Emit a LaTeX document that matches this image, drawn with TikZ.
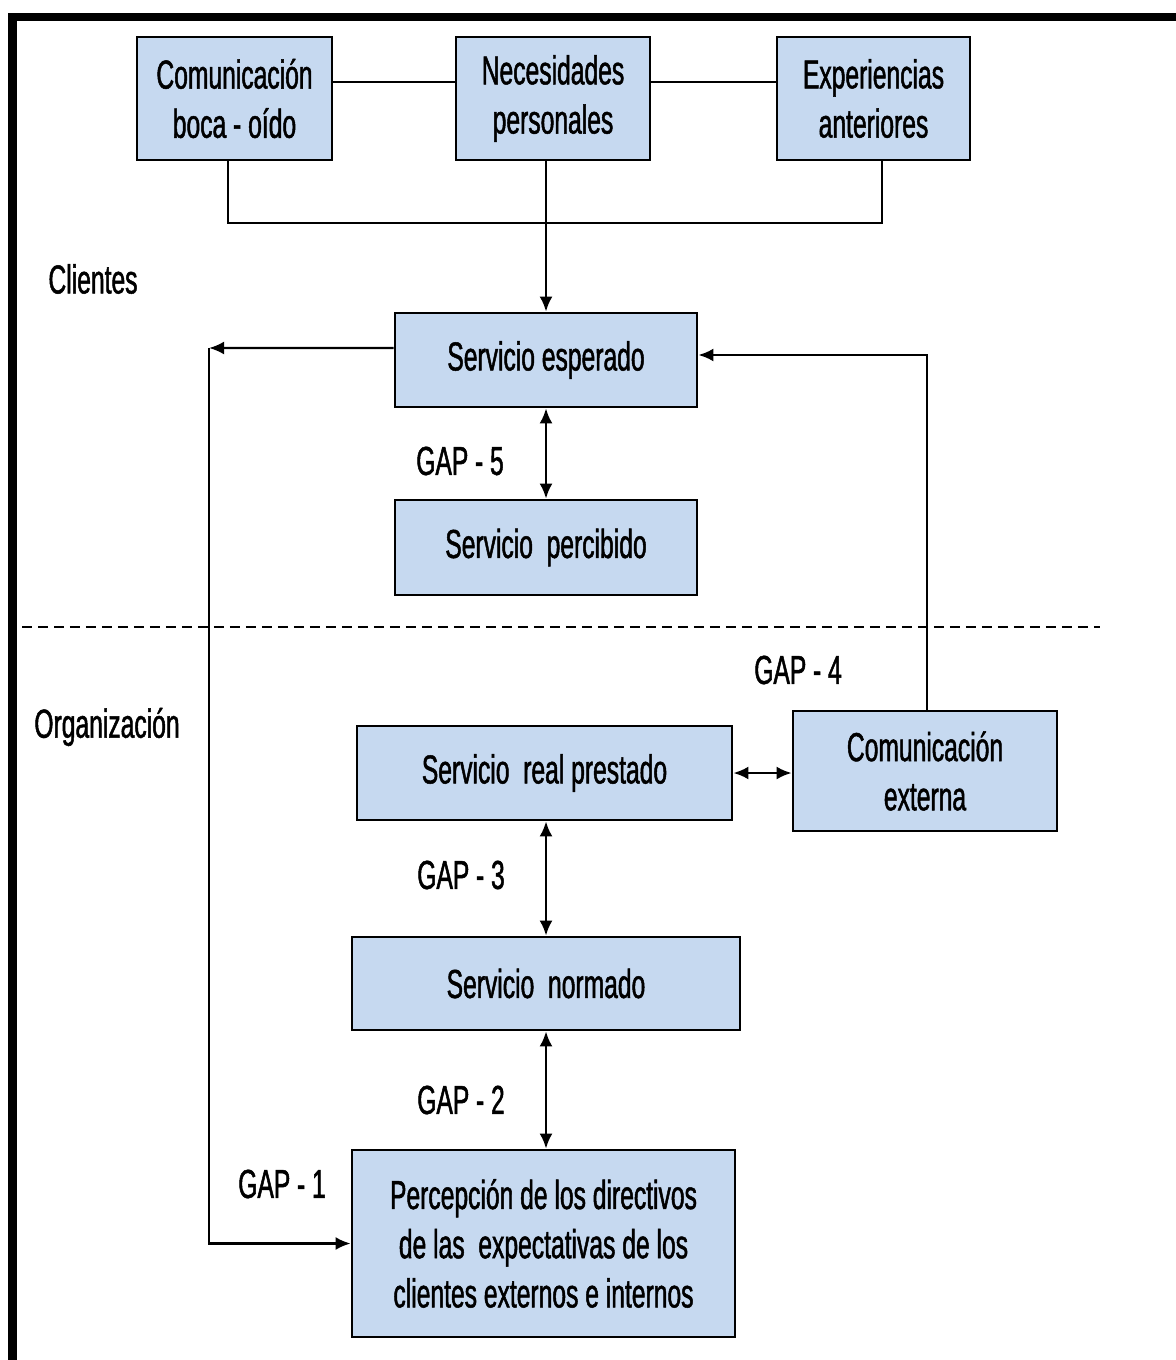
\documentclass[tikz,border=0pt]{standalone}
\usepackage{fontspec}
\setmainfont{Liberation Sans}[FakeStretch=0.61, FakeBold=1.2]
\usepackage{xcolor}
\usepackage{tikz}
\usetikzlibrary{arrows.meta, positioning, calc}

\definecolor{boxblue}{RGB}{198,217,240}

\begin{document}
\begin{tikzpicture}[
    font=\fontsize{23}{28}\selectfont,
    box/.style={draw, line width=1.6pt, fill=boxblue, inner sep=0pt, align=center, minimum width=#1},
    arr/.style={-{Latex[length=0.3cm,width=0.26cm]}, line width=1.4pt},
    dblarr/.style={{Latex[length=0.3cm,width=0.26cm]}-{Latex[length=0.3cm,width=0.26cm]}, line width=1.4pt},
    conn/.style={line width=1.4pt},
    lbl/.style={inner sep=0pt}
]
    \useasboundingbox (0,0) rectangle (23.5,-27.2);

    % Frame
    \draw[line width=0.17cm] (0.25,-27.4) -- (0.25,-0.34) -- (23.6,-0.34);

    % Client row
    \node[box=3.9cm,  minimum height=2.46cm] (boca)         at (4.69,-1.97)  {Comunicación\\boca - oído};
    \node[box=3.88cm, minimum height=2.46cm] (necesidades)  at (11.06,-1.97) {Necesidades\\personales};
    \node[box=3.86cm, minimum height=2.46cm] (experiencias) at (17.47,-1.97) {Experiencias\\anteriores};

    \node[box=6.04cm, minimum height=1.88cm] (esperado)  at (10.92,-7.2)   {Servicio esperado};
    \node[box=6.04cm, minimum height=1.9cm]  (percibido) at (10.92,-10.95) {Servicio~ percibido};

    % Organization column
    \node[box=7.5cm,  minimum height=1.88cm] (real)       at (10.89,-15.46) {Servicio~ real prestado};
    \node[box=5.28cm, minimum height=2.4cm]  (externa)    at (18.5,-15.42)  {Comunicación\\externa};
    \node[box=7.76cm, minimum height=1.86cm] (normado)    at (10.92,-19.67) {Servicio~ normado};
    \node[box=7.66cm, minimum height=3.74cm] (percepcion) at (10.87,-24.87) {Percepción de los directivos\\de las~ expectativas de los\\clientes externos e internos};

    % Labels
    \node[lbl] (clientes)     at (1.86,-5.58)  {Clientes};
    \node[lbl] (organizacion) at (2.14,-14.54) {Organización};
    \node[lbl] (gap5) at (9.2,-9.22)   {GAP\,-\,5};
    \node[lbl] (gap4) at (15.96,-13.4) {GAP\,-\,4};
    \node[lbl] (gap3) at (9.22,-17.5)  {GAP\,-\,3};
    \node[lbl] (gap2) at (9.22,-22.0)  {GAP\,-\,2};
    \node[lbl] (gap1) at (5.64,-23.68) {GAP\,-\,1};

    % Top connections
    \coordinate (jl) at (4.56,-4.46);
    \coordinate (jr) at (17.64,-4.46);
    \draw[conn] ([yshift=0.33cm]boca.east) -- ([yshift=0.33cm]necesidades.west);
    \draw[conn] ([yshift=0.33cm]necesidades.east) -- ([yshift=0.33cm]experiencias.west);
    \draw[conn] (boca.south -| jl) -- (jl) -- (jr) -- (experiencias.south -| jr);
    \draw[arr] (esperado.north |- necesidades.south) -- (esperado.north);

    % Gaps
    \draw[dblarr] (esperado.south) -- (percibido.north);
    \draw[dblarr] (real.east) -- (real.east -| externa.west);
    \draw[dblarr] (real.south -| normado.north) -- (normado.north);
    \draw[dblarr] (normado.south) -- (normado.south |- percepcion.north);

    % Feedback lines
    \coordinate (fb) at (4.18,-6.96);
    \draw[arr] ([yshift=0.24cm]esperado.west) -- (fb);
    \draw[arr] (fb) |- (percepcion.west);
    \draw[arr] ([xshift=0.04cm]externa.north) |- ([yshift=0.1cm]esperado.east);

    % Divider
    \coordinate (dl) at (0.44,-12.54);
    \coordinate (dr) at (22.0,-12.54);
    \draw[line width=1.4pt, dash pattern=on 0.2cm off 0.12cm] (dl) -- (dr);
\end{tikzpicture}
\end{document}
